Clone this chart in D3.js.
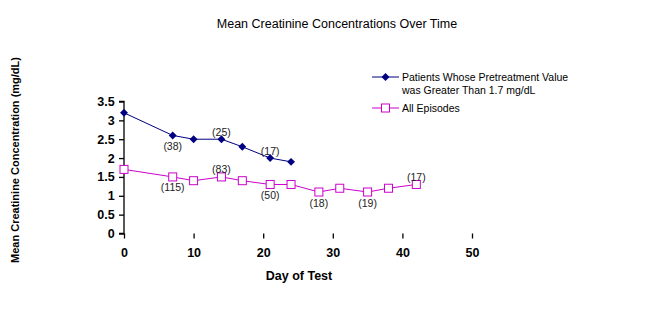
<!DOCTYPE html>
<html>
<head>
<meta charset="utf-8">
<script src="https://cdn.jsdelivr.net/npm/d3@7/dist/d3.min.js"></script>
<style>
  body { margin: 0; background: #fff; }
  svg { display: block; font-family: "Liberation Sans", Arial, sans-serif; }
</style>
</head>
<body>
<svg id="chart" width="651" height="323"></svg>
<script>
// Mean creatinine by day of test, with patient counts at selected days
const highDays = [0, 7, 10, 14, 17, 21, 24];
const highValues = [3.2, 2.6, 2.5, 2.5, 2.3, 2.0, 1.9];
const highCounts = [null, "(38)", null, "(25)", null, "(17)", null];
const highCountPos = [null, "below", null, "above", null, "above", null];

const allDays = [0, 7, 10, 14, 17, 21, 24, 28, 31, 35, 38, 42];
const allValues = [1.7, 1.5, 1.4, 1.5, 1.4, 1.3, 1.3, 1.1, 1.2, 1.1, 1.2, 1.3];
const allCounts = [null, "(115)", null, "(83)", null, "(50)", null, "(18)", null, "(19)", null, "(17)"];
const allCountPos = [null, "below", null, "above", null, "below", null, "below", null, "below", null, "above"];

const xTicks = [0, 10, 20, 30, 40, 50];
const yTicks = [0, 0.5, 1, 1.5, 2, 2.5, 3, 3.5];

const seriesNames = ["Patients Whose Pretreatment Value", "was Greater Than 1.7 mg/dL", "All Episodes"];

const navy = "#000080";
const magenta = "#CC00CC";

const svg = d3.select("#chart");

const x = d3.scaleLinear().domain([0, 50]).range([124, 472]);
const y = d3.scaleLinear().domain([0, 3.5]).range([233.5, 101.5]);

// Title
svg.append("text")
  .attr("x", 337).attr("y", 28)
  .attr("text-anchor", "middle")
  .attr("font-size", 12.5)
  .attr("fill", "#000")
  .text("Mean Creatinine Concentrations Over Time");

// Axes
const yAxis = d3.axisLeft(y).tickValues(yTicks).tickSize(5).tickFormat(d3.format(""));
const xAxis = d3.axisBottom(x).tickValues(xTicks).tickSize(5).tickFormat(d3.format("d"));

const gy = svg.append("g").attr("transform", `translate(${x(0)},0)`).call(yAxis);
const gx = svg.append("g").attr("transform", `translate(0,${y(0)})`).call(xAxis);

[gx, gy].forEach(g => {
  g.select(".domain").attr("stroke", "#000").attr("stroke-width", 1.3);
  g.selectAll(".tick line").attr("stroke", "#000").attr("stroke-width", 1.3);
  g.selectAll(".tick text")
    .attr("font-family", "Liberation Sans, Arial, sans-serif")
    .attr("font-size", 12.5)
    .attr("font-weight", "bold")
    .attr("fill", "#000");
});
gy.select(".domain").attr("d", `M-5,${y(3.5)}H0V${y(0)}H-5`);
gx.select(".domain").attr("d", `M${x(0)},${y(0)}H${x(50)}`);
gx.selectAll(".tick text").attr("dy", "1.2em");
gy.selectAll(".tick text").attr("dx", "-0.1em");

// Axis titles
svg.append("text")
  .attr("x", x(25) + 1).attr("y", 280)
  .attr("text-anchor", "middle")
  .attr("font-size", 12.5)
  .attr("font-weight", "bold")
  .text("Day of Test");

svg.append("text")
  .attr("transform", `translate(19,160) rotate(-90)`)
  .attr("text-anchor", "middle")
  .attr("font-size", 11)
  .attr("font-weight", "bold")
  .text("Mean Creatinine Concentration (mg/dL)");

// Lines
const line = d3.line().x(d => x(d[0])).y(d => y(d[1]));

svg.append("path")
  .datum(allDays.map((d, i) => [d, allValues[i]]))
  .attr("d", line)
  .attr("fill", "none")
  .attr("stroke", magenta)
  .attr("stroke-width", 1);

svg.append("path")
  .datum(highDays.map((d, i) => [d, highValues[i]]))
  .attr("d", line)
  .attr("fill", "none")
  .attr("stroke", navy)
  .attr("stroke-width", 1);

// Markers
const diamond = d3.symbol().type(d3.symbolDiamond2).size(40);

svg.selectAll(".high-pt")
  .data(highDays.map((d, i) => [d, highValues[i]]))
  .join("path")
  .attr("class", "high-pt")
  .attr("transform", d => `translate(${x(d[0])},${y(d[1])})`)
  .attr("d", diamond)
  .attr("fill", navy);

svg.selectAll(".all-pt")
  .data(allDays.map((d, i) => [d, allValues[i]]))
  .join("rect")
  .attr("class", "all-pt")
  .attr("x", d => x(d[0]) - 4)
  .attr("y", d => y(d[1]) - 4)
  .attr("width", 8).attr("height", 8)
  .attr("fill", "#fff")
  .attr("stroke", magenta)
  .attr("stroke-width", 1);

// Count labels
function drawCounts(days, values, counts, pos) {
  days.forEach((d, i) => {
    if (!counts[i]) return;
    svg.append("text")
      .attr("x", x(d))
      .attr("y", y(values[i]) + (pos[i] === "below" ? 14.5 : -3.5))
      .attr("text-anchor", "middle")
      .attr("font-size", 10.5)
      .attr("fill", "#222")
      .text(counts[i]);
  });
}
drawCounts(highDays, highValues, highCounts, highCountPos);
drawCounts(allDays, allValues, allCounts, allCountPos);

// Legend
const lg = svg.append("g");
lg.append("line").attr("x1", 372).attr("x2", 399).attr("y1", 77).attr("y2", 77)
  .attr("stroke", navy).attr("stroke-width", 1);
lg.append("path").attr("transform", "translate(385.5,77)").attr("d", diamond).attr("fill", navy);
lg.append("text").attr("x", 402).attr("y", 81).attr("font-size", 10.5).text(seriesNames[0]);
lg.append("text").attr("x", 402).attr("y", 94).attr("font-size", 10.5).text(seriesNames[1]);

lg.append("line").attr("x1", 372).attr("x2", 399).attr("y1", 108).attr("y2", 108)
  .attr("stroke", magenta).attr("stroke-width", 1);
lg.append("rect").attr("x", 381.5).attr("y", 104).attr("width", 8).attr("height", 8)
  .attr("fill", "#fff").attr("stroke", magenta);
lg.append("text").attr("x", 402).attr("y", 112).attr("font-size", 10.5).text(seriesNames[2]);
</script>
</body>
</html>
